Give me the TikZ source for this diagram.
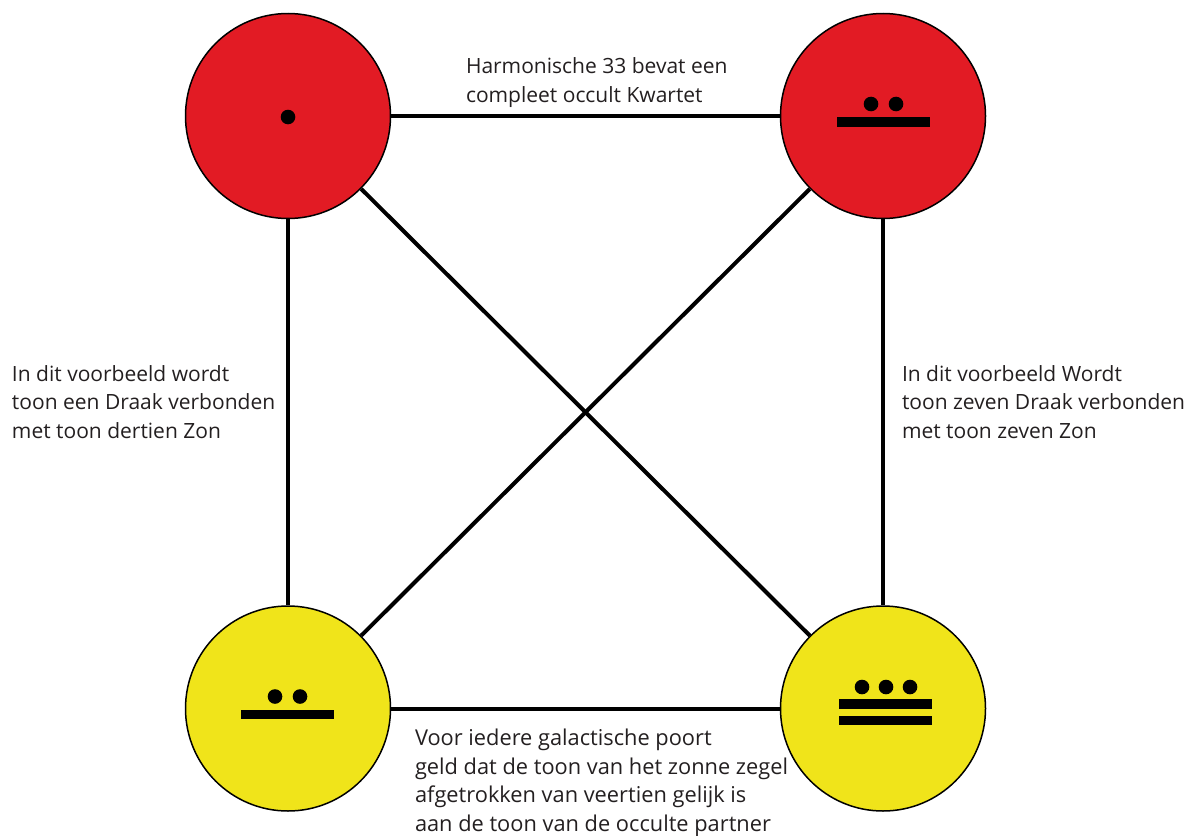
\documentclass[tikz,border=0pt]{standalone}
\usepackage{fontspec}
\setmainfont{Open Sans}

\definecolor{zonrood}{RGB}{226,27,36}
\definecolor{zongeel}{RGB}{240,228,26}
\definecolor{tekst}{RGB}{35,31,32}

\tikzstyle{zegel}=[circle,draw=black,line width=1.5pt,minimum size=205pt,inner sep=0pt]
\tikzstyle{uitleg}=[anchor=base west,align=left,inner sep=0pt,text=tekst,font=\fontsize{21}{28.5}\selectfont]
\tikzstyle{stip}=[fill=black]

\begin{document}
\begin{tikzpicture}[x=1pt, y=-1pt, -, line width=4pt]
		\useasboundingbox (0,0) rectangle (1196,835);

		\node [zegel,fill=zonrood] (draak1)  at (288,116)   {};
		\node [zegel,fill=zonrood] (draak7)  at (883,116)   {};
		\node [zegel,fill=zongeel] (zon7)    at (288,708.5) {};
		\node [zegel,fill=zongeel] (zon13)   at (883,708.5) {};

		% base = laatste regel
		\node [uitleg] (kwartet) at (464,102)  {Harmonische 33 bevat een\\compleet occult Kwartet};
		\node [uitleg] (links)   at (10,438)   {In dit voorbeeld wordt\\toon een Draak verbonden\\met toon dertien Zon};
		\node [uitleg] (rechts)  at (900,438)  {In dit voorbeeld Wordt\\toon zeven Draak verbonden\\met toon zeven Zon};
		\node [uitleg,font=\fontsize{21.8}{28.5}\selectfont] (poort) at (413,831)
			{Voor iedere galactische poort\\geld dat de toon van het zonne zegel\\afgetrokken van veertien gelijk is\\aan de toon van de occulte partner};

		\draw (draak1) edge (draak7);
		\draw (draak1) edge (zon7);
		\draw (draak7) edge (zon13);
		\draw (zon7)   edge (zon13);
		\draw (draak1) edge (zon13);
		\draw (draak7) edge (zon7);

		% tonen
		\fill [stip] (288,117) circle (7.3);

		\fill [stip] (871,104) circle (7.3);
		\fill [stip] (896,104) circle (7.3);
		\fill [stip] (837,117) rectangle (930,127);

		\fill [stip] (275,696.5) circle (7.3);
		\fill [stip] (300,696.5) circle (7.3);
		\fill [stip] (241,709.5) rectangle (334,719);

		\fill [stip] (862,687) circle (7.3);
		\fill [stip] (886,687) circle (7.3);
		\fill [stip] (910,687) circle (7.3);
		\fill [stip] (839,699) rectangle (932,708.5);
		\fill [stip] (839,715.5) rectangle (932,724.5);
	\end{tikzpicture}
\end{document}
